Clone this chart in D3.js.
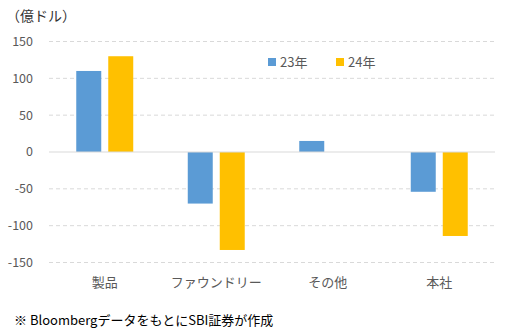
<!DOCTYPE html>
<html><head><meta charset="utf-8">
<script src="https://cdn.jsdelivr.net/npm/d3@7"></script>
<style>body{margin:0;background:#fff}svg{display:block}</style>
</head><body>
<script>
const categories = ["製品", "ファウンドリー", "その他", "本社"];
const seriesNames = ["23年", "24年"];
const values23 = [110, -70, 15, -54];
const values24 = [130, -133, 0, -114];
const yTicks = [150, 100, 50, 0, -50, -100, -150];
const colors = ["#5b9bd5", "#ffc000"];

const W = 509, H = 331;
const font = "'Noto Sans CJK JP', 'Noto Sans', sans-serif";
const svg = d3.select("body").append("svg").attr("width", W).attr("height", H);

const left = 49, right = 495;
const y = d3.scaleLinear().domain([-150, 150]).range([262.5, 41.5]);
const x0 = d3.scaleBand().domain(categories).range([left, right]);
const x1 = d3.scaleBand().domain(seriesNames).range([0, x0.bandwidth()]).paddingInner(0.219).paddingOuter(0.852);

// gridlines
svg.append("g").selectAll("line").data(yTicks.filter(d => d !== 0)).join("line")
  .attr("x1", left).attr("x2", right)
  .attr("y1", d => y(d)).attr("y2", d => y(d))
  .attr("stroke", "#d9d9d9").attr("stroke-width", 1).attr("stroke-dasharray", "4,3");

// y labels
svg.append("g").selectAll("text").data(yTicks).join("text")
  .attr("x", 33).attr("y", d => y(d)).attr("dy", "0.35em")
  .attr("text-anchor", "end").attr("font-family", font).attr("font-size", 12.5)
  .attr("fill", "#595959").text(d => d);

// bars
const data = categories.map((c, i) => ({c, v: [values23[i], values24[i]]}));
const g = svg.append("g").selectAll("g").data(data).join("g")
  .attr("transform", d => `translate(${x0(d.c)},0)`);
g.selectAll("rect").data(d => d.v.map((v, j) => ({s: seriesNames[j], v, j}))).join("rect")
  .attr("x", d => x1(d.s)).attr("width", x1.bandwidth())
  .attr("y", d => y(Math.max(0, d.v))).attr("height", d => Math.abs(y(d.v) - y(0)))
  .attr("fill", d => colors[d.j]);

// zero line
svg.append("line").attr("x1", left).attr("x2", right).attr("y1", y(0)).attr("y2", y(0))
  .attr("stroke", "#d9d9d9").attr("stroke-width", 1.2);

// category labels
svg.append("g").selectAll("text").data(categories).join("text")
  .attr("x", d => x0(d) + x0.bandwidth() / 2).attr("y", 287)
  .attr("text-anchor", "middle").attr("font-family", font).attr("font-size", 13)
  .attr("fill", "#595959").text(d => d);

// legend
const lg = svg.append("g").selectAll("g").data(seriesNames).join("g")
  .attr("transform", (d, i) => `translate(${268 + i * 68},58)`);
lg.append("rect").attr("width", 8).attr("height", 8).attr("fill", (d, i) => colors[i]);
lg.append("text").attr("x", 12).attr("y", 4).attr("dy", "0.38em")
  .attr("font-family", font).attr("font-size", 13).attr("fill", "#595959").text(d => d);

// unit label
svg.append("text").attr("x", 6).attr("y", 21).attr("font-family", font).attr("font-size", 14)
  .attr("fill", "#333").text("（億ドル）");

// footnote
svg.append("text").attr("x", 14).attr("y", 325).attr("font-family", font).attr("font-size", 13)
  .attr("fill", "#000").text("※ BloombergデータをもとにSBI証券が作成");
</script>
</body></html>
